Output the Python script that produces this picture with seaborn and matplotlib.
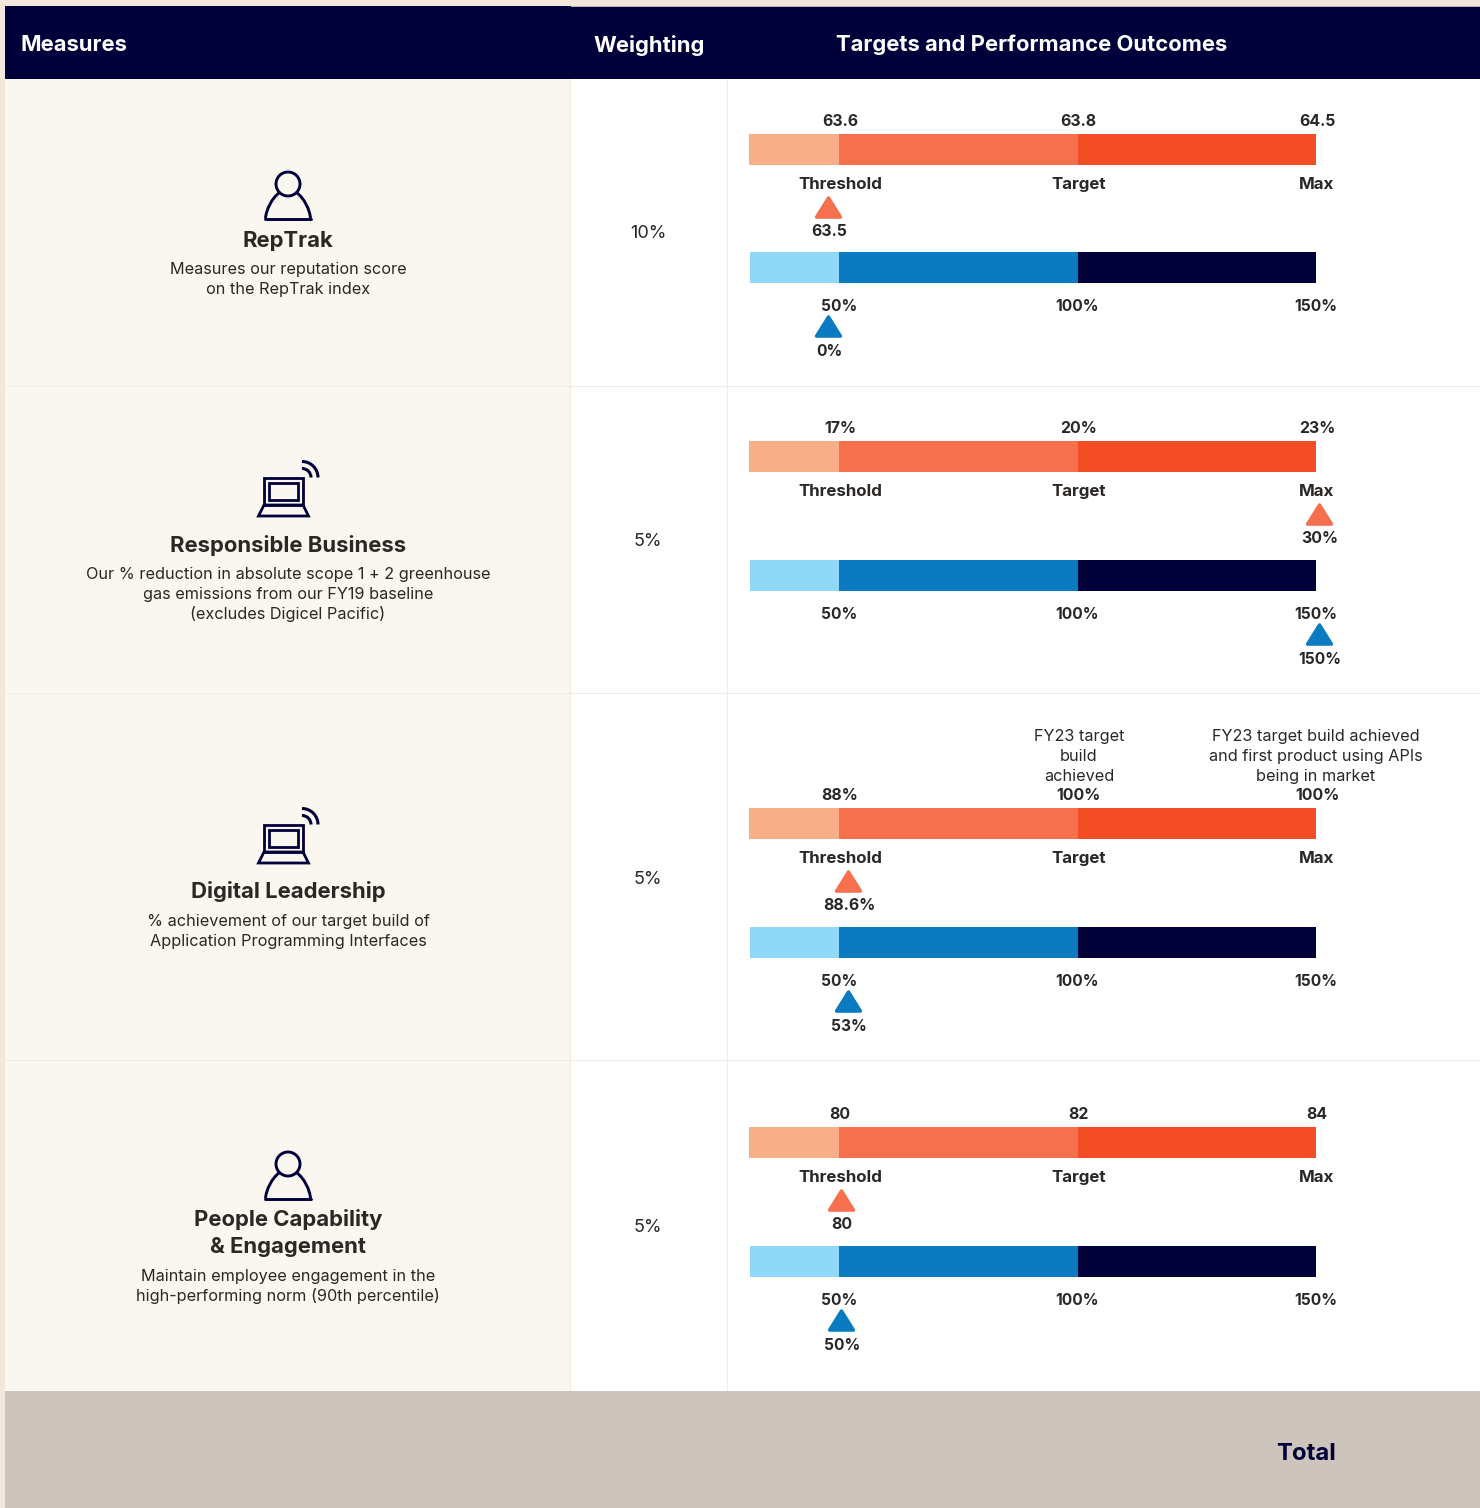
import matplotlib
matplotlib.use("Agg")
import matplotlib.pyplot as plt
from matplotlib.markers import MarkerStyle
from matplotlib.patches import Arc, Circle, PathPatch, Polygon, Rectangle
from matplotlib.path import Path
import seaborn as sns

# ---------- data ----------
measure_titles = [["RepTrak"], ["Responsible Business"], ["Digital Leadership"],
                  ["People Capability", "& Engagement"]]
measure_notes = [["Measures our reputation score", "on the RepTrak index"],
                 ["Our % reduction in absolute scope 1 + 2 greenhouse",
                  "gas emissions from our FY19 baseline", "(excludes Digicel Pacific)"],
                 ["% achievement of our target build of", "Application Programming Interfaces"],
                 ["Maintain employee engagement in the", "high-performing norm (90th percentile)"]]
weightings = ["10%", "5%", "5%", "5%"]
outcome_scale = [["63.6", "63.8", "64.5"], ["17%", "20%", "23%"],
                 ["88%", "100%", "100%"], ["80", "82", "84"]]
level_names = ["Threshold", "Target", "Max"]
payout_levels = [50, 100, 150]
payout_labels = ["50%", "100%", "150%"]
outcome_labels = ["63.5", "30%", "88.6%", "80"]
outcome_marks = [47.7, 150.6, 51.9, 50.4]
payout_marks = [47.7, 150.6, 51.9, 50.4]
payout_result_labels = ["0%", "150%", "53%", "50%"]
headers = ["Measures", "Weighting", "Targets and Performance Outcomes"]
total_label = "Total"
note_target = ["FY23 target", "build", "achieved"]
note_max = ["FY23 target build achieved", "and first product using APIs", "being in market"]

# ---------- style / layout ----------
W, H = 1480, 1508
NAVY = "#00003B"
INK = "#2A2725"
ORANGES = ["#F44C25", "#F6704E", "#F9AE8A"]
BLUES = ["#00003B", "#0B7BC1", "#90D8F8"]
LINE = "#F4EAE0"
FONT = ["Inter", "DejaVu Sans"]
PX_PER_PCT = 4.77
PX_50 = 839
VA = "center_baseline"
sns.set_theme(style="white")
plt.rcParams["font.family"] = FONT

fig = plt.figure(figsize=(W / 100, H / 100), dpi=100, facecolor="#F3E7DC")
bg = fig.add_axes([0, 0, 1, 1])
bg.set_xlim(0, W)
bg.set_ylim(H, 0)
bg.axis("off")


def rect(x0, y0, x1, y1, c, z=1):
    bg.add_patch(Rectangle((x0, y0), x1 - x0, y1 - y0, fc=c, ec="none", zorder=z))


rect(5, 79, W, 1391, "white")
rect(5, 79, 570, 1391, "#FAF7F0")
rect(5, 6, W, 79, NAVY, 2)
rect(571, 6, W, 7, "#B9B2B0", 3)
rect(5, 1391, W, H, "#CDC4BB", 2)
for yy in (385.5, 692.5, 1059.5):
    rect(5, yy, W, yy + 1.6, LINE, 2)
for xx in (570, 727):
    rect(xx - 0.2, 79, xx + 1, 1391, LINE, 2)

for x, s in zip((20, 593, 836), headers):
    bg.text(x, 43, s, color="white", fontsize=15.85, fontweight="bold", ha="left", va=VA, zorder=4)
bg.text(1336, 1452, total_label, color=NAVY, fontsize=17.2, fontweight="bold", ha="right", va=VA, zorder=4)


def person(dy):
    bg.add_patch(Circle((288, 184 + dy), 12, fc="none", ec=NAVY, lw=2.1, zorder=5))
    t = [(265.5, 218.5 + dy), (266, 210 + dy), (272, 198 + dy), (279, 193 + dy)]
    codes = [Path.MOVETO, Path.CURVE4, Path.CURVE4, Path.CURVE4]
    r = [(297, 193 + dy), (304, 198 + dy), (310, 210 + dy), (310.5, 218.5 + dy)]
    bg.add_patch(PathPatch(Path(t, codes), fc="none", ec=NAVY, lw=2.1, zorder=5))
    bg.add_patch(PathPatch(Path(r, codes), fc="none", ec=NAVY, lw=2.1, zorder=5))
    bg.plot([265, 311], [218.5 + dy, 218.5 + dy], color=NAVY, lw=2.1, zorder=5)


def laptop(dy):
    bg.add_patch(Rectangle((264, 478 + dy), 38.5, 27, fc="none", ec=NAVY, lw=2.0, zorder=5))
    bg.add_patch(Rectangle((269, 483 + dy), 28.5, 17, fc="none", ec=NAVY, lw=2.0, zorder=5))
    bg.add_patch(Polygon([(264, 505 + dy), (303, 505 + dy), (308.5, 516 + dy), (258.5, 516 + dy)],
                         closed=True, fc="none", ec=NAVY, lw=2.0, zorder=5))
    for d in (18, 32):
        bg.add_patch(Arc((302, 477.5 + dy), d, d, theta1=270, theta2=360, angle=0, ec=NAVY, lw=2.2, zorder=5))


person(0)
laptop(0)
laptop(347)
person(980)

title_y = [[239], [543], [890], [1218, 1245]]
note_y = [[268, 288], [573, 593, 613], [920, 940], [1275, 1295]]
weight_y = [232, 539, 877, 1225]
for i in range(4):
    for s, y in zip(measure_titles[i], title_y[i]):
        bg.text(288, y, s, color=INK, fontsize=15.9, fontweight="bold", ha="center", va=VA, zorder=5)
    for s, y in zip(measure_notes[i], note_y[i]):
        bg.text(288, y, s, color=INK, fontsize=11.7, ha="center", va=VA, zorder=5)
    bg.text(648, weight_y[i], weightings[i], color=INK, fontsize=13, ha="center", va=VA, zorder=5)

TRI = MarkerStyle(Path([(-1, -0.8), (0, 0.8), (1, -0.8), (-1, -0.8)], closed=True))


def lane(left, top, unit, palette, mark, tri_color):
    h = 31 + unit - 15.5 + 15
    ax = fig.add_axes([left / W, 1 - (top + h) / H, (W - left) / W, h / H])
    ax.patch.set_visible(False)
    w = 31 / unit
    for v, c in zip(payout_levels[::-1], palette):
        sns.barplot(x=[v], y=[0], orient="y", native_scale=True, width=w, color=c, saturation=1,
                    errorbar=None, linewidth=0, ax=ax)
    sns.scatterplot(x=[mark], y=[1], marker=TRI, s=300, color=tri_color, edgecolor=tri_color,
                    linewidth=2.4, ax=ax, legend=False, clip_on=False, zorder=5)
    ax.set_xlim(50 - (PX_50 - left) / PX_PER_PCT, 150 + (W - 1316) / PX_PER_PCT)
    ax.set_ylim(1 + 15 / unit, -15.5 / unit)
    ax.axis("off")
    return ax


def label(ax, x, dy, s, dx=0, size=11.4):
    ax.annotate(s, xy=(x, 0), xycoords="data", xytext=(dx, -dy), textcoords="offset pixels",
                ha="center", va=VA, color=INK, fontsize=size, fontweight="bold",
                annotation_clip=False)


tops = [134, 441, 808, 1127]
for i, top in enumerate(tops):
    a = lane(749, top, 57, ORANGES, outcome_marks[i], ORANGES[1])
    for lv, s, n in zip(payout_levels, outcome_scale[i], level_names):
        label(a, lv, -29.5, s, dx=1)
        label(a, lv, 33.5, n, dx=1, size=12.2)
    label(a, outcome_marks[i], 80.5, outcome_labels[i], dx=1)
    b = lane(750, top + 118 + (1 if i else 0), 58, BLUES, payout_marks[i], BLUES[1])
    for lv, s in zip(payout_levels, payout_labels):
        label(b, lv, 37.5, s, size=11.2)
    label(b, payout_marks[i], 82.5, payout_result_labels[i], dx=1, size=11.2)

for x, lines in ((1079, note_target), (1316, note_max)):
    for s, y in zip(lines, (735, 755, 775)):
        bg.text(x, y, s, color=INK, fontsize=11.7, ha="center", va=VA, zorder=5)

fig.savefig("out.png", dpi=100, facecolor=fig.get_facecolor())
